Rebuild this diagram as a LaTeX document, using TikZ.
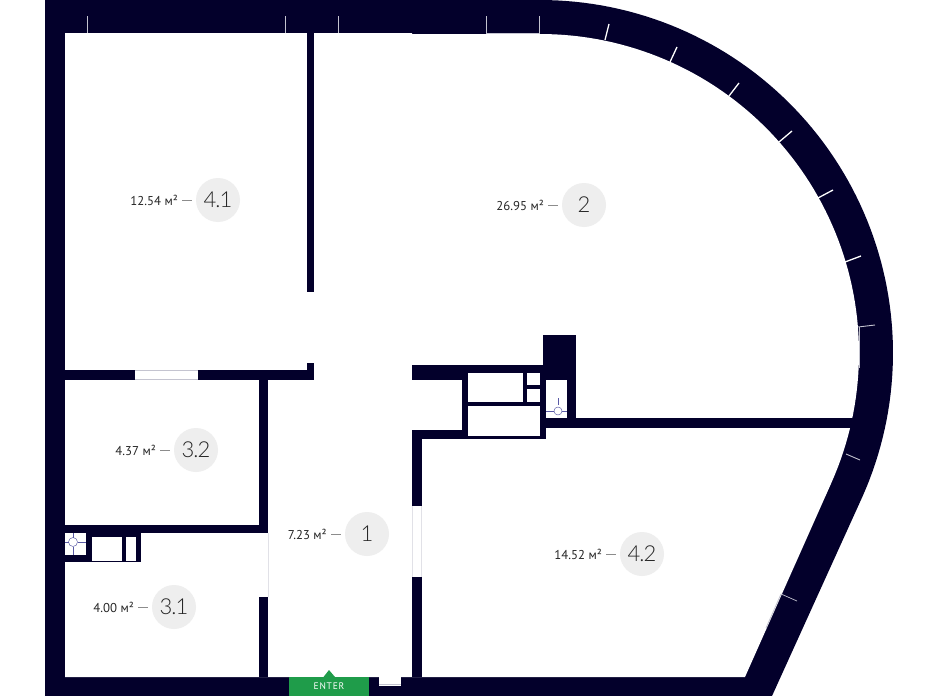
\documentclass[tikz,border=0pt]{standalone}
\usepackage{fontspec}
\setmainfont{PT Sans}
\newfontfamily\numfont[LetterSpace=-4]{Lato Light}
\definecolor{wallc}{HTML}{03002B}
\definecolor{bubble}{HTML}{EEEEEE}
\definecolor{enterc}{HTML}{1F9C4A}
\definecolor{thinc}{HTML}{C4C4D0}
\definecolor{textc}{HTML}{262626}
\tikzset{
  wall/.style={fill=wallc,draw=none},
  pane/.style={fill=white,draw=none},
  tick/.style={draw=white,line width=0.9pt},
  glass/.style={draw=thinc,line width=0.8pt},
  fixture/.style={draw=gray!70!blue,line width=0.45pt},
  areabadge/.style={circle,fill=bubble,minimum size=44pt,inner sep=0pt,font=\numfont\fontsize{22}{22}\selectfont,text=textc},
  arealabel/.style={inner sep=0pt,font=\fontsize{12.8}{13}\selectfont,text=textc,anchor=east},
  leader/.style={draw=black!45,line width=0.5pt,shorten <=4pt,shorten >=4pt}
}
\newcommand{\roomtag}[5]{% name, cx, cy, area, number
  \node[areabadge] (#1) at (#2,#3) {#5};
  \node[arealabel] (#1l) at (#2-40,#3) {#4};
  \draw[leader] (#1l.east) -- (#1.west);
}
\begin{document}
\begin{tikzpicture}[x=1pt,y=-1pt]
\useasboundingbox (0,0) rectangle (938,696);
% outer shell and inner floor
\fill[wallc] (45,696) -- (45,0) -- plot[domain=-90:24,samples=80] ({540+353*cos(\x)},{353+353*sin(\x)}) -- (772,696) -- cycle;
\fill[white] (65,677) -- (65,33) -- (412,33) -- (412,34) -- plot[domain=-90:24,samples=80] ({540+319*cos(\x)},{353+319*sin(\x)}) -- (745,677) -- cycle;
% interior walls
\fill[wall] (306.5,33) rectangle (313.5,292);
\fill[wall] (306.5,363) rectangle (313.5,380);
\fill[wall] (65,370) rectangle (135,380);
\fill[wall] (198,370) rectangle (313.5,380);
\draw[glass] (135,370) -- (198,370) (135,379.5) -- (198,379.5);
\fill[wall] (259,380) rectangle (268,533);
\fill[wall] (259,597) rectangle (268,677);
\fill[wall] (65,525) rectangle (268,533);
\draw[glass,draw=thinc!50] (268,533) -- (268,597);
% bath unit, left
\fill[wall] (86,533) rectangle (141,562);
\fill[wall] (65,555) rectangle (86,562);
\fill[pane] (92,537) rectangle (122,561);
\fill[pane] (126,537) rectangle (136,561);
\draw[fixture] (73,542) circle (4.5);
\draw[fixture] (73,533) -- (73,537.5) (73,546.5) -- (73,555) (65,542) -- (68.5,542) (77.5,542) -- (86,542);
% core
\fill[wall] (412,365) rectangle (546,380);
\fill[wall] (543,335) rectangle (576,380);
\fill[wall] (567,380) rectangle (576,418);
\fill[wall] (462,365) rectangle (546,439);
\fill[wall] (412,430) rectangle (546,439);
\fill[wall] (546,418) rectangle (856,428);
\fill[wall] (412,430) rectangle (421.5,506);
\fill[wall] (412,577) rectangle (421.5,677);
\draw[glass,draw=thinc!50] (412,506) -- (412,577) (421.5,506) -- (421.5,577);
\fill[pane] (468,373) rectangle (523,402);
\fill[pane] (527,373) rectangle (540,385);
\fill[pane] (527,389) rectangle (540,402);
\fill[pane] (468,406) rectangle (540,436);
\draw[fixture] (558,411) circle (4);
\draw[fixture] (558,398) -- (558,405) (546,411) -- (554,411) (562,411) -- (567,411);
% entrance
\fill[enterc] (289,677) rectangle (369,696);
\fill[enterc] (323.5,677) -- (329,670) -- (335,677) -- cycle;
\node[text=white,inner sep=0pt,font=\fontsize{9.5}{9.5}\selectfont\addfontfeature{LetterSpace=8}] (enter) at (329,686) {ENTER};
\fill[pane] (379,677) rectangle (401,687);
\draw[glass] (379,684.5) -- (401,684.5);
\draw[draw=wallc,line width=0.6pt] (379,686.5) -- (401,686.5);
% window ticks, straight walls
\draw[tick,draw=thinc] (87,16) -- (87,33) (285,16) -- (285,33) (338,16) -- (338,33);
\draw[tick,draw=thinc] (486,16) -- (486,33) -- (539,33) -- (539,16);
% window ticks, curved wall
\draw[tick,line width=1.3pt] (605,40) -- (609,24) (670,62) -- (677,47) (729,96) -- (739,83) (779,142) -- (792,131) (818,198) -- (833,190) (845,262) -- (861,256);
\draw[tick,draw=thinc] (858,327) -- (875,325);
\draw[glass] (859,327) -- (859,368);
\draw[tick,draw=thinc] (846,454) -- (860,460);
\draw[tick,draw=thinc,line width=.7pt] (781,594) -- (797,601);
\draw[glass] (781,594) -- (766,628);
% room tags
\roomtag{ra}{218}{200}{12.54 м²}{4.1}
\roomtag{rb}{584}{205}{26.95 м²}{2}
\roomtag{rc}{196}{450}{4.37 м²}{3.2}
\roomtag{rd}{367}{534}{7.23 м²}{1}
\roomtag{re}{642}{554}{14.52 м²}{4.2}
\roomtag{rf}{174}{607}{4.00 м²}{3.1}
\end{tikzpicture}
\end{document}
